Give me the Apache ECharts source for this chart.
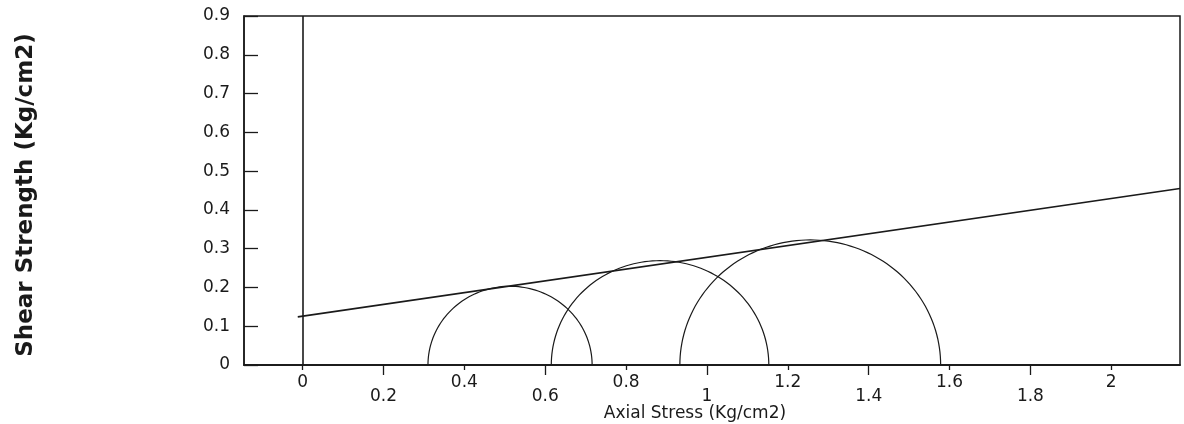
<!DOCTYPE html>
<html>
<head>
<meta charset="utf-8">
<script src="https://cdn.jsdelivr.net/npm/echarts@6/dist/echarts.min.js"></script>
<style>
html,body{margin:0;padding:0;background:#fff;}
#chart{width:1184px;height:424px;}
</style>
</head>
<body>
<div id="chart"></div>
<script>
// Mohr circles: minor and major principal stresses (Kg/cm2)
var sigma3 = [0.31, 0.615, 0.933];
var sigma1 = [0.716, 1.153, 1.578];
// Failure envelope end points
var envelopeX = [-0.012, 2.17];
var envelopeY = [0.124, 0.455];
// Tick labels
var xTicksUpper = [0, 0.4, 0.8, 1.2, 1.6, 2];
var xTicksLower = [0.2, 0.6, 1, 1.4, 1.8];
var yTicks = [0, 0.1, 0.2, 0.3, 0.4, 0.5, 0.6, 0.7, 0.8, 0.9];

var ink = '#1a1a1a';
var labelFont = 'DejaVu Sans';

var circleData = sigma3.map(function (s, i) { return [s, sigma1[i]]; });
var envelopeData = envelopeX.map(function (x, i) { return [x, envelopeY[i]]; });

var chart = echarts.init(document.getElementById('chart'), null, {renderer: 'canvas'});

function xAxisCfg(values, tickLen, margin) {
  return {
    type: 'value', position: 'bottom', min: -0.145, max: 2.17,
    axisLine: {show: true, onZero: false, lineStyle: {color: ink, width: 1.5}},
    axisTick: {show: true, inside: false, length: tickLen, customValues: values,
      lineStyle: {color: ink, width: 1.3}},
    axisLabel: {show: true, customValues: values, margin: margin,
      color: ink, fontFamily: labelFont, fontSize: 17,
      formatter: function (v) { return String(v); }},
    splitLine: {show: false}
  };
}

chart.setOption({
  animation: false,
  backgroundColor: '#fff',
  grid: {left: 244, right: 4, top: 16, bottom: 59, show: true,
    borderColor: ink, borderWidth: 1.5, backgroundColor: 'transparent'},
  xAxis: [
    xAxisCfg(xTicksUpper, 5, 9),
    xAxisCfg(xTicksLower, 10, 23)
  ],
  yAxis: {
    type: 'value', min: 0, max: 0.9, interval: 0.1, position: 'left',
    axisLine: {show: true, onZero: false, lineStyle: {color: ink, width: 1.5}},
    axisTick: {show: true, inside: true, length: 14, lineStyle: {color: ink, width: 1.3}},
    axisLabel: {margin: 14, color: ink, fontFamily: labelFont, fontSize: 17,
      customValues: yTicks,
      formatter: function (v) { return String(Math.round(v * 10) / 10); }},
    splitLine: {show: false}
  },
  graphic: [
    {type: 'text', x: 26, y: 195, rotation: Math.PI / 2,
      style: {text: 'Shear Strength (Kg/cm2)', fill: ink, align: 'center', verticalAlign: 'middle',
        font: 'bold 23px "DejaVu Sans"'}},
    {type: 'text', x: 695, y: 414,
      style: {text: 'Axial Stress (Kg/cm2)', fill: ink, align: 'center', verticalAlign: 'middle',
        font: '17px "DejaVu Sans"'}}
  ],
  series: [
    {
      type: 'line', xAxisIndex: 0, data: envelopeData, symbol: 'none', clip: true,
      lineStyle: {color: ink, width: 1.6},
      markLine: {silent: true, symbol: 'none', label: {show: false},
        lineStyle: {color: ink, width: 1.6, type: 'solid'},
        data: [[{coord: [0, 0]}, {coord: [0, 0.9]}]]}
    },
    {
      type: 'custom', xAxisIndex: 0, data: circleData,
      encode: {x: [0, 1]},
      renderItem: function (params, api) {
        var s3 = api.value(0), s1 = api.value(1);
        var c = (s3 + s1) / 2, r = (s1 - s3) / 2;
        var pts = [];
        var n = 90;
        for (var k = 0; k <= n; k++) {
          var t = Math.PI * k / n;
          pts.push(api.coord([c + r * Math.cos(t), r * Math.sin(t)]));
        }
        return {type: 'polyline', shape: {points: pts},
          style: {stroke: ink, fill: null, lineWidth: 1.2}};
      }
    }
  ]
});
</script>
</body>
</html>
